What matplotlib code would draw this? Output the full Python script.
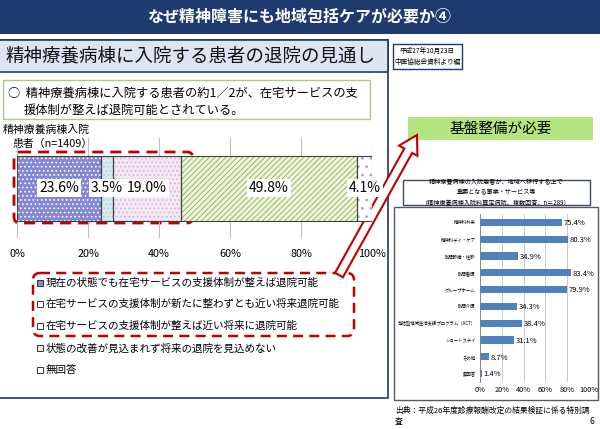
import matplotlib
matplotlib.use("Agg")
import matplotlib.pyplot as plt
import matplotlib.patches as mpatches

plt.rcParams['font.family'] = ['Noto Sans CJK JP', 'DejaVu Sans']
plt.rcParams['hatch.linewidth'] = 0.7

# ---------------- data ----------------
title = "なぜ精神障害にも地域包括ケアが必要か④"
subtitle = "精神療養病棟に入院する患者の退院の見通し"
source_note = "平成27年10月23日\n中医協総会資料より編"
bullet_lines = ["○  精神療養病棟に入院する患者の約1／2が、在宅サービスの支",
                "援体制が整えば退院可能とされている。"]
bar_label_lines = ["精神療養病棟入院", "患者（n=1409）"]

segment_names = ["現在の状態でも在宅サービスの支援体制が整えば退院可能",
                 "在宅サービスの支援体制が新たに整わずとも近い将来退院可能",
                 "在宅サービスの支援体制が整えば近い将来に退院可能",
                 "状態の改善が見込まれず将来の退院を見込めない",
                 "無回答"]
segment_values = [23.6, 3.5, 19.0, 49.8, 4.1]
pct_ticks = [0, 20, 40, 60, 80, 100]

right_title = "精神療養病棟の入院患者が、地域へ移行する上で\n重要となる事業・サービス等\n（精神療養病棟入院料算定病院、複数回答、n＝289）"
services = ["精神科外来", "精神科デイ・ケア", "訪問診療・往診", "訪問看護", "グループホーム",
            "訪問介護", "包括型地域生活支援プログラム（ACT）", "ショートステイ", "その他", "無回答"]
service_values = [75.4, 80.3, 34.9, 83.4, 79.9, 34.3, 38.4, 31.1, 8.7, 1.4]
need_text = "基盤整備が必要"
source_text = "出典：平成26年度診療報酬改定の結果検証に係る特別調\n査"
page_no = "6"

# ---------------- styles ----------------
seg_face = ['#8488D2', '#D6E9EE', '#F3E8F3', '#EEF4E0', '#FFFFFF']
seg_hatch_col = ['#FFFFFF', '#B5D0D8', '#D4B4D6', '#98B85A', '#A8A8A8']
seg_hatch = ['....', '....', '....', '//////', '..']
navy = '#1E3A6E'
red = '#C00000'

W, H = 600, 429
fig = plt.figure(figsize=(6, 4.29), dpi=100)


def rect(x0, y0, x1, y1):
    return [x0 / W, 1 - y1 / H, (x1 - x0) / W, (y1 - y0) / H]


bg = fig.add_axes([0, 0, 1, 1])
bg.set_xlim(0, W)
bg.set_ylim(H, 0)
bg.axis('off')

# title bar
bg.add_patch(mpatches.Rectangle((0, 0), W, 34, fc=navy, ec='none'))
bg.text(300, 17, title, color='white', fontsize=11.5, fontweight='bold', ha='center', va='center')

# left frame
bg.add_patch(mpatches.Rectangle((-2, 40), 390, 358, fc='white', ec=navy, lw=1.2))
bg.add_patch(mpatches.Rectangle((-2, 40), 390, 32, fc='#DCE6F2', ec=navy, lw=1.2))
bg.text(5, 56, subtitle, fontsize=13.3, ha='left', va='center', color='#111111')

# date box
bg.add_patch(mpatches.Rectangle((393, 44), 69, 25, fc='white', ec=navy, lw=1))
bg.text(427.5, 56.5, source_note, fontsize=4.8, ha='center', va='center', linespacing=1.4)

# bullet box
bg.add_patch(mpatches.Rectangle((3, 80), 367, 39, fc='white', ec='#A9C98D', lw=1))
bg.text(8, 93, bullet_lines[0], fontsize=8.8, ha='left', va='center')
bg.text(24, 110, bullet_lines[1], fontsize=8.8, ha='left', va='center')

bg.text(3, 130, bar_label_lines[0], fontsize=7.8, ha='left', va='center')
bg.text(13, 144, bar_label_lines[1], fontsize=7.8, ha='left', va='center')

# main stacked bar
ax1 = fig.add_axes(rect(17, 138, 372, 238))
ax1.set_xlim(0, 100)
ax1.set_ylim(0, 1)
for x in pct_ticks:
    ax1.axvline(x, color='#BFBFBF', lw=0.8, zorder=0)
left = 0
for v, fc, hc, h in zip(segment_values, seg_face, seg_hatch_col, seg_hatch):
    ax1.barh(0.5, v, left=left, height=0.65, color=fc, edgecolor=hc, hatch=h, linewidth=0, zorder=2)
    ax1.barh(0.5, v, left=left, height=0.65, fill=False, edgecolor='#404040', linewidth=0.8, zorder=3)
    ax1.text(left + v / 2, 0.5, f"{v:.1f}%", fontsize=10, ha='center', va='center', zorder=4,
             bbox=dict(boxstyle='square,pad=0.15', fc='white', ec='none'))
    left += v
ax1.set_xticks(pct_ticks)
ax1.set_xticklabels([f"{t}%" for t in pct_ticks], fontsize=7.8)
ax1.set_yticks([])
ax1.tick_params(axis='x', length=0, pad=8)
for s in ax1.spines.values():
    s.set_visible(False)
ax1.patch.set_alpha(0)

# red dashed boxes
bg.add_patch(mpatches.FancyBboxPatch((14, 152), 179, 71, boxstyle='round,pad=0,rounding_size=6',
                                     fc='none', ec=red, lw=2, ls=(0, (4, 2.5)), zorder=5))
bg.add_patch(mpatches.FancyBboxPatch((33, 273), 321, 63, boxstyle='round,pad=0,rounding_size=7',
                                     fc='none', ec=red, lw=1.8, ls=(0, (4, 2.5)), zorder=5))

# legend
leg_y = [283, 304, 326, 348, 370]
for i, (name, y) in enumerate(zip(segment_names, leg_y)):
    fc = seg_face[0] if i == 0 else ('#E4EDD0' if i == 3 else 'white')
    bg.add_patch(mpatches.Rectangle((37, y - 3), 6, 6, fc=fc, ec='#333333', lw=0.7))
    bg.text(46, y, name, fontsize=7.6, ha='left', va='center')

# arrow
bg.add_patch(mpatches.FancyArrow(339, 275, 78, -140, width=9, head_width=21, head_length=18,
                                 length_includes_head=True, fc='white', ec=red, lw=1.5, zorder=6))

# need box
bg.add_patch(mpatches.Rectangle((408, 117), 185, 23, fc='#B4E57F', ec='none'))
bg.text(500.5, 128.5, need_text, fontsize=10.5, ha='center', va='center')

# right chart frame and title
bg.add_patch(mpatches.Rectangle((394, 207), 204, 193, fc='white', ec='#595959', lw=1))
bg.add_patch(mpatches.Rectangle((403, 180), 187, 25, fc='white', ec='#3A4A66', lw=1))
bg.text(496.5, 192.5, right_title, fontsize=4.4, ha='center', va='center', linespacing=1.35)

ax2 = fig.add_axes(rect(480, 214, 589, 382))
ypos = list(range(len(services)))[::-1]
ax2.set_xlim(0, 100)
ax2.set_ylim(-0.5, len(services) - 0.5)
for x in pct_ticks:
    ax2.axvline(x, color='#BFBFBF', lw=0.6, zorder=0)
ax2.barh(ypos, service_values, height=0.42, color='#4F81BD', zorder=2)
for y, v in zip(ypos, service_values):
    ax2.text(v + 1.5, y - 0.05, f"{v:.1f}%", fontsize=5.5, ha='left', va='center')
ax2.set_yticks(ypos)
ax2.set_yticklabels(services, fontsize=3.2)
ax2.set_xticks(pct_ticks)
ax2.set_xticklabels([f"{t}%" for t in pct_ticks], fontsize=5.3)
ax2.tick_params(axis='both', length=0, pad=3)
for k, s in ax2.spines.items():
    s.set_visible(k == 'left')
ax2.spines['left'].set_color('#808080')
ax2.spines['left'].set_linewidth(0.6)
ax2.patch.set_alpha(0)

bg.text(395, 416, source_text, fontsize=5.6, ha='left', va='center', linespacing=1.5)
bg.text(592, 422, page_no, fontsize=6, ha='center', va='center')

fig.savefig("out.png", dpi=100)
